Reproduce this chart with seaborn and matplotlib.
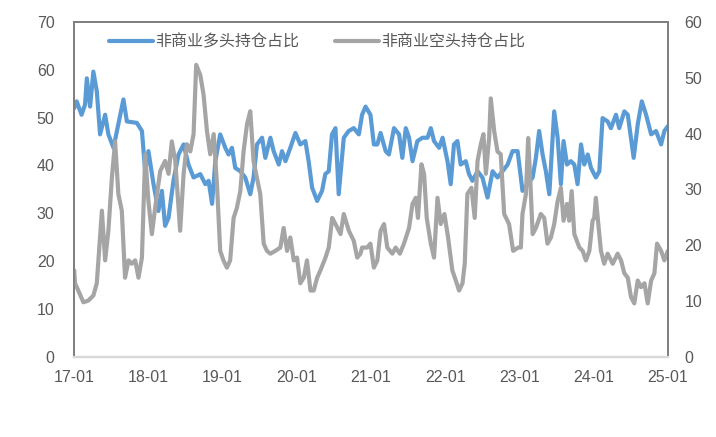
import numpy as np
import pandas as pd
import matplotlib
matplotlib.use("Agg")
import matplotlib.pyplot as plt
import matplotlib.dates as mdates
import seaborn as sns

long_dates = [
    "2017-01-02", "2017-01-14", "2017-02-07", "2017-02-24", "2017-03-05", "2017-03-21", "2017-04-06",
    "2017-04-23", "2017-05-09", "2017-06-03", "2017-06-19", "2017-07-14", "2017-08-07", "2017-09-01",
    "2017-09-18", "2017-11-06", "2017-12-01", "2017-12-17",
    "2018-01-02", "2018-01-27", "2018-02-20", "2018-03-09", "2018-03-25", "2018-04-11", "2018-05-05",
    "2018-05-30", "2018-06-24", "2018-07-18", "2018-08-12", "2018-09-14", "2018-10-09", "2018-10-25",
    "2018-11-11", "2018-11-27", "2018-12-21",
    "2019-01-15", "2019-01-31", "2019-02-17", "2019-03-05", "2019-03-30", "2019-04-23", "2019-05-18",
    "2019-06-03", "2019-06-20", "2019-07-15", "2019-07-31", "2019-08-25", "2019-09-10", "2019-10-05",
    "2019-10-21", "2019-11-07", "2019-12-01", "2019-12-26",
    "2020-01-19", "2020-02-13", "2020-02-29", "2020-03-17", "2020-04-11", "2020-05-05", "2020-05-21",
    "2020-06-07", "2020-06-23", "2020-07-10", "2020-07-26", "2020-08-20", "2020-09-13", "2020-10-08",
    "2020-11-02", "2020-11-18", "2020-12-05", "2020-12-29",
    "2021-01-15", "2021-02-01", "2021-02-17", "2021-03-14", "2021-03-30", "2021-04-24", "2021-05-19",
    "2021-06-04", "2021-06-21", "2021-07-07", "2021-07-24", "2021-08-17", "2021-09-11", "2021-10-06",
    "2021-10-22", "2021-11-07", "2021-12-02", "2021-12-19",
    "2022-01-12", "2022-01-28", "2022-02-13", "2022-03-02", "2022-03-18", "2022-04-12", "2022-04-28",
    "2022-05-15", "2022-06-09", "2022-07-03", "2022-07-28", "2022-08-22", "2022-09-15", "2022-10-10",
    "2022-11-04", "2022-11-28", "2022-12-23",
    "2023-01-16", "2023-02-10", "2023-03-07", "2023-03-23", "2023-04-08", "2023-04-25", "2023-05-11",
    "2023-05-28", "2023-06-21", "2023-07-08", "2023-07-24", "2023-08-06", "2023-08-23", "2023-09-11",
    "2023-09-28", "2023-10-14", "2023-10-31", "2023-11-16", "2023-12-03", "2023-12-19",
    "2024-01-12", "2024-01-29", "2024-02-14", "2024-03-10", "2024-03-26", "2024-04-20", "2024-05-06",
    "2024-05-31", "2024-06-17", "2024-07-16", "2024-08-05", "2024-08-25", "2024-09-15", "2024-10-10",
    "2024-11-03", "2024-11-28", "2024-12-14", "2024-12-31",
]
long_pct = [
    52.0, 53.4, 50.6, 52.7, 58.2, 52.3, 59.6, 55.5, 46.5, 50.6, 46.5, 43.7, 48.6, 53.8, 49.2, 48.9, 47.2, 38.8,
    43.0, 36.1, 30.5, 34.7, 27.4, 29.1, 36.8, 42.3, 44.4, 40.2, 37.5, 38.2, 36.1, 36.8, 32.0, 40.9, 46.5,
    43.7, 42.3, 43.7, 39.5, 38.8, 37.5, 34.0, 37.5, 44.4, 45.8, 41.6, 45.8, 43.0, 40.2, 43.0, 40.9, 43.7, 46.8,
    44.4, 45.1, 40.9, 35.4, 32.6, 34.7, 38.2, 38.8, 46.5, 47.8, 34.0, 45.8, 47.2, 47.8, 46.5, 50.6, 52.3, 50.6,
    44.4, 44.4, 46.8, 43.0, 42.3, 47.8, 46.5, 41.6, 47.8, 45.8, 40.9, 45.1, 45.8, 45.8, 47.8, 45.1, 43.7, 45.8,
    40.9, 36.1, 44.4, 45.1, 40.2, 40.9, 38.2, 36.8, 38.8, 37.5, 33.3, 38.8, 37.5, 38.8, 40.2, 43.0, 43.0,
    34.7, 36.1, 37.5, 41.6, 47.2, 42.3, 38.8, 34.0, 51.3, 45.8, 36.1, 45.1, 40.2, 40.9, 40.2, 36.1, 44.4,
    40.2, 42.3, 39.5,
    37.5, 38.8, 49.9, 49.2, 47.8, 50.6, 47.8, 51.3, 50.6, 41.6, 48.6, 53.4, 50.6, 46.5, 47.2, 44.4, 47.2, 48.2,
]

short_dates = [
    "2017-01-02", "2017-01-06", "2017-01-22", "2017-02-16", "2017-03-12", "2017-04-06", "2017-04-23",
    "2017-05-09", "2017-05-18", "2017-06-03", "2017-06-19", "2017-07-06", "2017-07-22", "2017-08-07",
    "2017-08-24", "2017-09-09", "2017-09-26", "2017-10-12", "2017-10-29", "2017-11-14", "2017-12-01",
    "2017-12-17",
    "2018-01-02", "2018-01-19", "2018-02-04", "2018-03-01", "2018-03-25", "2018-04-11", "2018-04-27",
    "2018-05-14", "2018-06-07", "2018-06-24", "2018-07-10", "2018-07-27", "2018-08-12", "2018-08-25",
    "2018-09-14", "2018-09-30", "2018-10-17", "2018-11-02", "2018-11-19", "2018-12-05", "2018-12-21",
    "2019-01-06", "2019-01-23", "2019-02-08", "2019-02-25", "2019-03-13", "2019-03-30", "2019-04-15",
    "2019-05-02", "2019-05-18", "2019-06-03", "2019-06-20", "2019-07-06", "2019-07-23", "2019-08-08",
    "2019-08-25", "2019-09-18", "2019-10-13", "2019-10-29", "2019-11-15", "2019-12-01", "2019-12-18",
    "2020-01-03", "2020-01-19", "2020-02-05", "2020-02-21", "2020-03-09", "2020-03-25", "2020-04-11",
    "2020-04-27", "2020-05-22", "2020-06-07", "2020-06-24", "2020-07-10", "2020-08-04", "2020-08-20",
    "2020-09-14", "2020-10-08", "2020-10-25", "2020-11-10", "2020-11-18", "2020-12-13", "2020-12-29",
    "2021-01-15", "2021-02-01", "2021-02-17", "2021-03-06", "2021-03-22", "2021-04-16", "2021-05-02",
    "2021-05-23", "2021-06-12", "2021-07-07", "2021-07-24", "2021-08-09", "2021-08-20", "2021-09-06",
    "2021-09-19", "2021-10-02", "2021-10-22", "2021-11-07", "2021-11-24", "2021-12-10", "2021-12-28",
    "2022-01-15", "2022-02-05", "2022-02-22", "2022-03-10", "2022-03-27", "2022-04-07", "2022-04-20",
    "2022-05-10", "2022-05-26", "2022-06-09", "2022-06-25", "2022-07-08", "2022-07-20", "2022-08-05",
    "2022-08-13", "2022-08-30", "2022-09-15", "2022-10-01", "2022-10-18", "2022-11-11", "2022-12-01",
    "2022-12-26",
    "2023-01-08", "2023-01-16", "2023-02-02", "2023-02-13", "2023-02-23", "2023-03-07", "2023-03-23",
    "2023-04-16", "2023-05-03", "2023-05-19", "2023-06-05", "2023-06-21", "2023-07-08", "2023-07-24",
    "2023-08-06", "2023-08-23", "2023-09-03", "2023-09-15", "2023-09-28", "2023-10-23", "2023-11-08",
    "2023-11-24", "2023-12-11", "2023-12-27",
    "2024-01-04", "2024-01-12", "2024-01-24", "2024-02-06", "2024-02-22", "2024-03-10", "2024-04-04",
    "2024-04-28", "2024-05-15", "2024-05-31", "2024-06-17", "2024-07-03", "2024-07-19", "2024-08-05",
    "2024-08-21", "2024-09-07", "2024-09-23", "2024-10-10", "2024-10-26", "2024-11-08", "2024-11-28",
    "2024-12-14", "2024-12-31",
]
short_pct = [
    15.5, 13.2, 11.9, 9.8, 10.1, 11.0, 13.2, 21.4, 26.2, 17.3, 22.6, 32.0, 38.6, 29.2, 26.2, 14.2, 17.3,
    16.7, 17.3, 14.2, 17.8, 36.3,
    27.9, 22.0, 26.7, 33.3, 35.1, 32.8, 38.6, 35.1, 22.6, 32.8, 38.1, 36.8, 39.9, 52.3, 50.5, 47.0, 40.4,
    36.3, 39.9, 31.0, 19.0,
    17.3, 16.0, 17.3, 24.9, 26.7, 29.7, 36.8, 41.7, 44.0, 35.1, 32.0, 29.2, 20.3, 19.0, 18.5, 19.0, 19.6,
    23.1, 19.0, 21.4, 17.3,
    17.8, 13.2, 14.2, 17.3, 11.9, 11.9, 14.2, 15.5, 17.8, 19.6, 24.9, 23.8, 22.0, 25.6, 22.6, 20.8, 17.8,
    18.5, 19.6, 19.6, 20.3,
    16.0, 17.3, 22.6, 23.8, 19.6, 18.5, 19.6, 18.5, 20.3, 23.1, 27.4, 28.5, 24.9, 34.5, 32.8, 24.9, 20.3,
    17.8, 28.5, 23.8, 25.6,
    21.4, 15.5, 13.7, 11.9, 13.2, 16.7, 29.2, 30.3, 24.9, 35.1, 38.1, 39.9, 32.8, 39.2, 46.3, 40.4, 36.8,
    36.3, 25.6, 23.8, 19.0, 19.6,
    19.6, 25.6, 29.2, 39.2, 32.0, 22.0, 23.1, 25.6, 24.9, 20.3, 21.4, 23.8, 27.9, 30.3, 24.4, 27.4, 24.4,
    29.7, 22.0, 19.6, 19.0, 17.3, 19.0, 24.4,
    24.9, 28.5, 23.8, 19.0, 16.7, 18.5, 16.7, 18.5, 17.3, 15.0, 14.2, 10.7, 9.6, 13.7, 12.5, 13.2, 9.6,
    13.7, 15.0, 20.3, 19.0, 17.3, 19.0,
]

long_label = "非商业多头持仓占比"
short_label = "非商业空头持仓占比"
year_ticks = ["2017-01-01", "2018-01-01", "2019-01-01", "2020-01-01", "2021-01-01",
              "2022-01-01", "2023-01-01", "2024-01-01", "2025-01-01"]

df_long = pd.DataFrame({"date": pd.to_datetime(long_dates), "pct": long_pct})
df_short = pd.DataFrame({"date": pd.to_datetime(short_dates), "pct": short_pct})

sns.set_theme(style="white")
plt.rcParams["font.family"] = ["Liberation Sans", "Noto Sans CJK SC", "DejaVu Sans"]

blue = "#5B9BD5"
grey = "#A5A5A5"
text_c = "#595959"

fig = plt.figure(figsize=(7.16, 4.37), dpi=100)
ax = fig.add_axes([0.1034, 0.183, 0.8296, 0.767])
ax2 = ax.twinx()

sns.lineplot(data=df_long, x="date", y="pct", ax=ax, color=blue, linewidth=3.0, label=long_label, legend=False)
sns.lineplot(data=df_short, x="date", y="pct", ax=ax2, color=grey, linewidth=3.0, label=short_label, legend=False)

ax.set_ylim(0, 70)
ax.set_yticks(np.arange(0, 71, 10))
ax2.set_ylim(0, 60)
ax2.set_yticks(np.arange(0, 61, 10))
ax.set_xlim(pd.Timestamp(year_ticks[0]), pd.Timestamp(year_ticks[-1]))
ax.set_xticks(pd.to_datetime(year_ticks))
ax.xaxis.set_major_formatter(mdates.DateFormatter("%y-%m"))

for a in (ax, ax2):
    a.set_xlabel("")
    a.set_ylabel("")
    a.grid(False)
    for s in a.spines.values():
        s.set_color("#7F7F7F")
        s.set_linewidth(1.3)
    a.spines["bottom"].set_color("#D9D9D9")
    a.spines["bottom"].set_linewidth(1.6)

ax.tick_params(axis="y", length=0, pad=14, labelsize=11.5, labelcolor=text_c)
ax.tick_params(axis="x", length=0, pad=9, labelsize=11.5, labelcolor=text_c)
ax2.tick_params(axis="y", length=0, pad=12, labelsize=11.5, labelcolor=text_c)

h1, l1 = ax.get_legend_handles_labels()
h2, l2 = ax2.get_legend_handles_labels()
leg = ax2.legend(h1 + h2, l1 + l2, ncol=2, loc="center left", bbox_to_anchor=(0.035, 0.94),
                 frameon=False, fontsize=11.5, handlelength=2.75, handletextpad=0.1, columnspacing=2.3)
for t in leg.get_texts():
    t.set_color(text_c)

fig.savefig("out.png", dpi=100)
